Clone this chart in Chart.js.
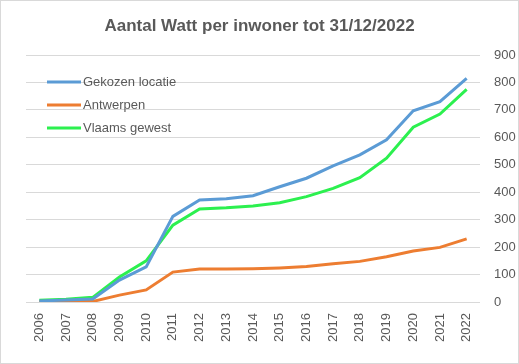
<!DOCTYPE html>
<html>
<head>
<meta charset="utf-8">
<script src="https://cdn.jsdelivr.net/npm/chart.js"></script>
<style>
  html, body { margin: 0; padding: 0; background: #fff; }
  canvas { display: block; }
</style>
</head>
<body>
<canvas id="chart" width="519" height="364"></canvas>
<script>
// ====================== DATA ======================
const years = ["2006", "2007", "2008", "2009", "2010", "2011", "2012", "2013", "2014",
  "2015", "2016", "2017", "2018", "2019", "2020", "2021", "2022"];
const gekozenLocatie = [4, 7, 11, 80, 128, 312, 372, 376, 387, 420, 451, 496, 536, 591, 697, 730, 815];
const antwerpen = [1, 2, 2, 25, 44, 109, 120, 120, 121, 124, 129, 139, 148, 165, 186, 199, 230];
const vlaamsGewest = [6, 10, 17, 91, 150, 280, 339, 343, 350, 362, 384, 414, 453, 524, 637, 685, 775];
const yMax = 900;
const yStep = 100;
const title = "Aantal Watt per inwoner tot 31/12/2022";

const FONT = "'Liberation Sans', Arial, sans-serif";
const GREY = "#595959";

// ====================== TITLE, LEGEND, BORDER ======================
// drawn by hand so the title centres on the whole canvas and the legend sits inside the plot
const decorations = {
  id: "decorations",
  afterDraw(chart) {
    const ctx = chart.ctx;
    ctx.save();
    // chart border
    ctx.strokeStyle = "#d9d9d9";
    ctx.lineWidth = 1;
    ctx.strokeRect(0.5, 0.5, chart.width - 1, chart.height - 1);

    // title
    ctx.fillStyle = GREY;
    ctx.font = "bold 17px " + FONT;
    ctx.textAlign = "center";
    ctx.textBaseline = "middle";
    ctx.fillText(title, chart.width / 2, 26);

    // legend
    let y = 82;
    ctx.font = "13px " + FONT;
    ctx.textAlign = "left";
    chart.data.datasets.forEach(ds => {
      ctx.strokeStyle = ds.borderColor;
      ctx.lineWidth = 3;
      ctx.beginPath();
      ctx.moveTo(47, y);
      ctx.lineTo(81, y);
      ctx.stroke();
      ctx.fillStyle = GREY;
      ctx.fillText(ds.label, 83, y);
      y += 23;
    });
    ctx.restore();
  }
};

// ====================== CHART ======================
new Chart(document.getElementById("chart"), {
  type: "line",
  data: {
    labels: years,
    datasets: [
      { label: "Gekozen locatie", data: gekozenLocatie, borderColor: "#5b9bd5", borderWidth: 3, pointRadius: 0, tension: 0 },
      { label: "Antwerpen", data: antwerpen, borderColor: "#ed7d31", borderWidth: 3, pointRadius: 0, tension: 0 },
      { label: "Vlaams gewest", data: vlaamsGewest, borderColor: "#2cf04f", borderWidth: 3, pointRadius: 0, tension: 0 }
    ]
  },
  options: {
    responsive: false,
    animation: false,
    layout: { padding: { left: 26, right: 0, top: 55, bottom: 0 } },
    plugins: {
      legend: { display: false },
      tooltip: { enabled: false },
      title: { display: false }
    },
    scales: {
      x: {
        offset: true,
        grid: { display: false },
        border: { display: false },
        ticks: {
          color: GREY,
          font: { family: FONT, size: 13 },
          minRotation: 90,
          maxRotation: 90,
          autoSkip: false,
          padding: 3
        },
        afterFit(scale) { scale.height = 62; }
      },
      y: {
        position: "right",
        min: 0,
        max: yMax,
        grid: { color: "#d9d9d9", lineWidth: 1, drawTicks: false },
        border: { display: false },
        ticks: {
          stepSize: yStep,
          color: GREY,
          font: { family: FONT, size: 13 },
          padding: 14
        },
        afterFit(scale) { scale.width = 39; }
      }
    }
  },
  plugins: [decorations]
});
</script>
</body>
</html>
